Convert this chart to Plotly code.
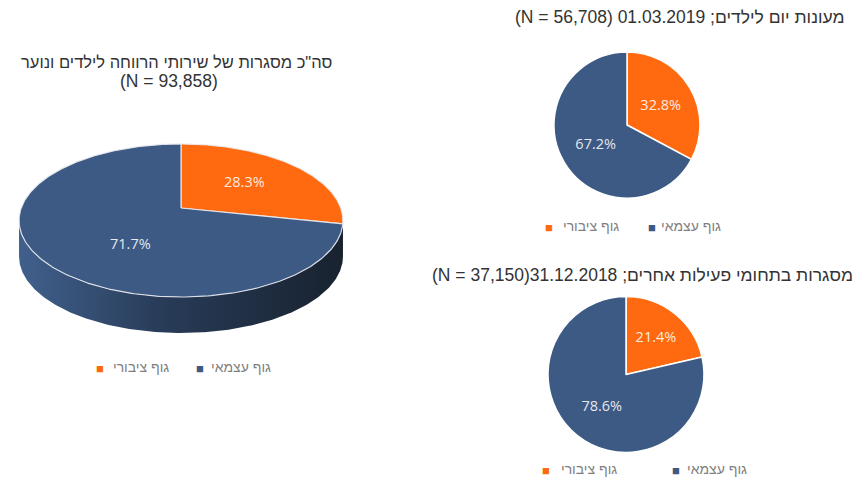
import numpy as np
import plotly.graph_objects as go

# ---------------- data ----------------
categories = ["גוף ציבורי", "גוף עצמאי"]
total_values = [28.3, 71.7]      # סה"כ מסגרות (N = 93,858)
daycare_values = [32.8, 67.2]    # מעונות יום (N = 56,708)
other_values = [21.4, 78.6]      # מסגרות בתחומי פעילות אחרים (N = 37,150)

title_total_line1 = 'סה"כ מסגרות של שירותי הרווחה לילדים ונוער'
title_total_line2 = "(N = 93,858)"
title_daycare = "מעונות יום לילדים; 01.03.2019 (N = 56,708)"
title_other = "מסגרות בתחומי פעילות אחרים; 31.12.2018(N = 37,150)"

colors = ["#FF6A10", "#3D5A85"]

W, H = 858, 481
RLE, PDF = "\u202b", "\u202c"

fig = go.Figure()

# ---------------- left: tilted (3D-look) pie ----------------
CX, CY, RX, RY, K, DEPTH = 181, 208, 159.8, 74.5, 0.163, 36


def rim(phi):
    s = 1.0 / (1.0 + K * np.cos(phi))
    return CX + RX * np.sin(phi) * s, CY - RY * np.cos(phi) * s


# side wall (front half)
phi_r = np.arccos(-K)
phi_l = 2 * np.pi - phi_r
ph = np.linspace(phi_r, phi_l, 240)
xt, yt = rim(ph)
side_x = np.concatenate([xt, xt[::-1]])
side_y = np.concatenate([yt, (yt + DEPTH)[::-1]])
fig.add_trace(go.Scatter(
    x=side_x, y=side_y, mode="lines", fill="toself",
    line=dict(width=0, color="rgba(0,0,0,0)"),
    fillgradient=dict(type="horizontal",
                      colorscale=[[0, "#40608C"], [0.45, "#283B57"], [1, "#18222F"]]),
    hoverinfo="skip", showlegend=False,
))

fr = np.array(total_values) / np.sum(total_values)
cum = np.concatenate([[0], np.cumsum(fr)]) * 2 * np.pi
for i in range(len(total_values)):
    ph = np.linspace(cum[i], cum[i + 1], 300)
    xs, ys = rim(ph)
    px = np.concatenate([[CX], xs, [CX]])
    py = np.concatenate([[CY], ys, [CY]])
    fig.add_trace(go.Scatter(
        x=px, y=py, mode="lines", fill="toself", fillcolor=colors[i],
        line=dict(width=1.2, color="rgba(235,235,240,0.9)"),
        hoverinfo="skip", showlegend=False,
    ))

# ---------------- right: flat pies ----------------
pie_common = dict(
    labels=categories, sort=False, direction="clockwise", rotation=0,
    marker=dict(colors=colors, line=dict(color="white", width=1.5)),
    texttemplate="%{percent:.1%}", textposition="inside",
    insidetextorientation="horizontal",
    textfont=dict(family="Open Sans", size=14.5, color="rgba(255,255,255,0.88)"),
    hoverinfo="skip", showlegend=False,
)
fig.add_trace(go.Pie(values=daycare_values,
                     domain=dict(x=[553 / W, 701 / W], y=[(H - 198) / H, (H - 52) / H]),
                     **pie_common))
fig.add_trace(go.Pie(values=other_values,
                     domain=dict(x=[548 / W, 704 / W], y=[(H - 453) / H, (H - 296) / H]),
                     **pie_common))

# ---------------- annotations ----------------
ann = []
title_font = dict(family="Liberation Sans, Arial", size=17.5, color="#333333")
ann.append(dict(x=176, y=62, text=RLE + title_total_line1 + PDF,
                font=dict(title_font, size=16.5)))
ann.append(dict(x=169, y=81, text=title_total_line2, font=title_font))
ann.append(dict(x=680, y=17, text=RLE + title_daycare + PDF, font=title_font))
ann.append(dict(x=642, y=275, text=RLE + title_other + PDF, font=title_font))

# labels on the tilted pie
lab_font = dict(family="Open Sans", size=14.5, color="rgba(255,255,255,0.88)")
ann.append(dict(x=244, y=181, text=f"{total_values[0]:.1f}%", font=lab_font))
ann.append(dict(x=130, y=243, text=f"{total_values[1]:.1f}%", font=lab_font))

# legends
leg_font = dict(family="Liberation Sans, Arial", size=14, color="#7F7F7F")


def legend(y, sq_x, txt_x):
    for i in range(2):
        ann.append(dict(x=sq_x[i], y=y, text="■", font=dict(size=13, color=colors[i])))
        ann.append(dict(x=txt_x[i], y=y - 1, text=categories[i], font=leg_font,
                        xanchor="left"))


legend(368, [100, 200], [111, 209])
legend(227, [549, 652], [561, 659])
legend(470, [546, 676], [559, 685])

for a in ann:
    a.setdefault("xref", "x")
    a.setdefault("yref", "y")
    a.setdefault("showarrow", False)
    a.setdefault("xanchor", "center")
    a.setdefault("yanchor", "middle")

fig.update_layout(
    width=W, height=H, autosize=False,
    margin=dict(l=0, r=0, t=0, b=0),
    paper_bgcolor="white", plot_bgcolor="white",
    showlegend=False,
    xaxis=dict(range=[0, W], visible=False, fixedrange=True, domain=[0, 1]),
    yaxis=dict(range=[H, 0], visible=False, fixedrange=True, domain=[0, 1]),
    annotations=ann,
)

fig.write_html(
    "out.html",
    config={"displayModeBar": False, "staticPlot": True},
    post_script="document.body.style.margin='0';document.body.style.overflow='hidden';",
)
